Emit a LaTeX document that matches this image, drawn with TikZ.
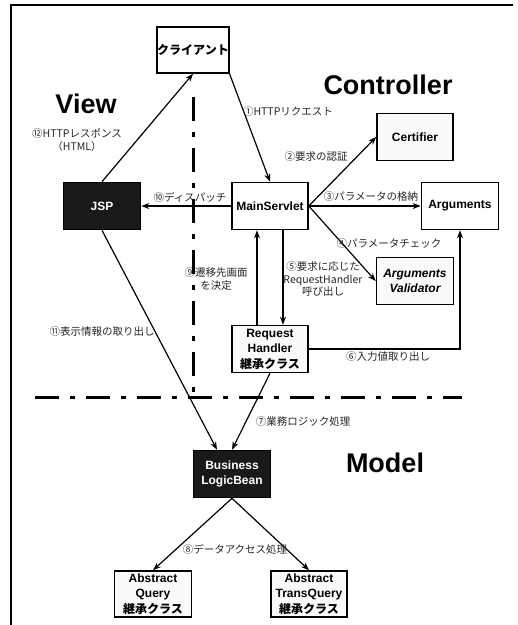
\documentclass[tikz,border=0pt]{standalone}
\usepackage{fontspec}
\setmainfont{Liberation Sans}
\newfontfamily\jp{Noto Sans CJK JP}
\usetikzlibrary{arrows.meta, positioning}

\tikzset{
  box/.style={draw, line width=1.6pt, fill=gray!4, minimum width=76pt, minimum height=47pt,
    align=center, inner sep=0pt, font=\fontsize{12}{15.5}\selectfont\bfseries},
  darkbox/.style={box, fill=black!90, text=white},
  lbl/.style={font=\jp\fontsize{10.5}{12.5}\selectfont, text=black!85, align=center, inner sep=0pt},
  title/.style={font=\fontsize{27}{30}\selectfont\bfseries},
  sep/.style={line width=3pt, dash pattern=on 24pt off 11pt on 5pt off 11pt},
  conn/.style={->, line width=1.2pt},
  >={Stealth[length=8pt, width=6pt]}
}

\begin{document}
\begin{tikzpicture}[x=1pt, y=-1pt]
  \useasboundingbox (0,0) rectangle (518,625);
  \draw[line width=2pt] (11,625) -- (11,5) -- (513,5);

  \node[title] (view) at (86,104) {View};
  \node[title] (ctrl) at (388,85) {Controller};
  \node[title] (model) at (385,463) {Model};

  \node[box, fill=white, minimum width=69pt, minimum height=46pt] (client) at (193,50) {\jp クライアント};
  \node[box] (cert) at (415,137) {Certifier};
  \node[darkbox, minimum width=77pt] (jsp) at (102,206) {JSP};
  \node[box, fill=white] (main) at (270,206) {MainServlet};
  \node[box, fill=white, minimum width=77pt] (args) at (460,206) {Arguments};
  \node[box, minimum width=77pt, font=\fontsize{12}{15.5}\selectfont\bfseries\itshape] (valid) at (415,281) {Arguments\\Validator};
  \node[box] (rh) at (270,349) {Request\\Handler\\{\jp 継承クラス}};
  \node[darkbox, minimum width=77pt] (blb) at (232,474) {Business\\LogicBean};
  \node[box, minimum width=77pt, minimum height=46pt] (aq) at (153,594) {Abstract\\Query\\{\jp 継承クラス}};
  \node[box, minimum height=46pt] (atq) at (309,594) {Abstract\\TransQuery\\{\jp 継承クラス}};

  \draw[conn] (client.south east) -- (main.north);
  \draw[conn] (jsp.north) -- (client.south);
  \draw[conn] (main.east) -- (cert.west);
  \draw[conn] (main.east) -- (args.west);
  \draw[conn] (main.east) -- (valid.west);
  \draw[conn] (main.west) -- (jsp.east);
  \draw[conn] ([xshift=13pt]main.south) -- ([xshift=13pt]rh.north);
  \draw[conn] ([xshift=-13pt]rh.north) -- ([xshift=-13pt]main.south);
  \draw[conn] (rh.east) -| (args.south);
  \draw[conn] (rh.south) -- (blb.north);
  \draw[conn] (jsp.south) -- ([xshift=-15pt]blb.north);
  \draw[conn] (blb.south) -- (aq.north);
  \draw[conn] (blb.south) -- (atq.north);

  % labels
  \node[lbl] (l1) at (288,112) {①HTTPリクエスト};
  \node[lbl] (l12) at (77,140) {⑫HTTPレスポンス\\（HTML）};
  \node[lbl] (l2) at (316,157) {②要求の認証};
  \node[lbl] (l10) at (190,197) {⑩ディスパッチ};
  \node[lbl] (l3) at (371,197) {③パラメータの格納};
  \node[lbl] (l4) at (389,244) {④パラメータチェック};
  \node[lbl] (l5) at (323,279) {⑤要求に応じた\\RequestHandler\\呼び出し};
  \node[lbl] (l9) at (216,279) {⑨遷移先画面\\を決定};
  \node[lbl] (l11) at (102,332) {⑪表示情報の取り出し};
  \node[lbl] (l6) at (388,357) {⑥入力値取り出し};
  \node[lbl] (l7) at (303,422) {⑦業務ロジック処理};
  \node[lbl] (l8) at (235,549) {⑧データアクセス処理};

  % layer borders
  \draw[sep] (193,97) -- (193,392);
  \draw[sep] (35,397) -- (462,397);
\end{tikzpicture}
\end{document}
